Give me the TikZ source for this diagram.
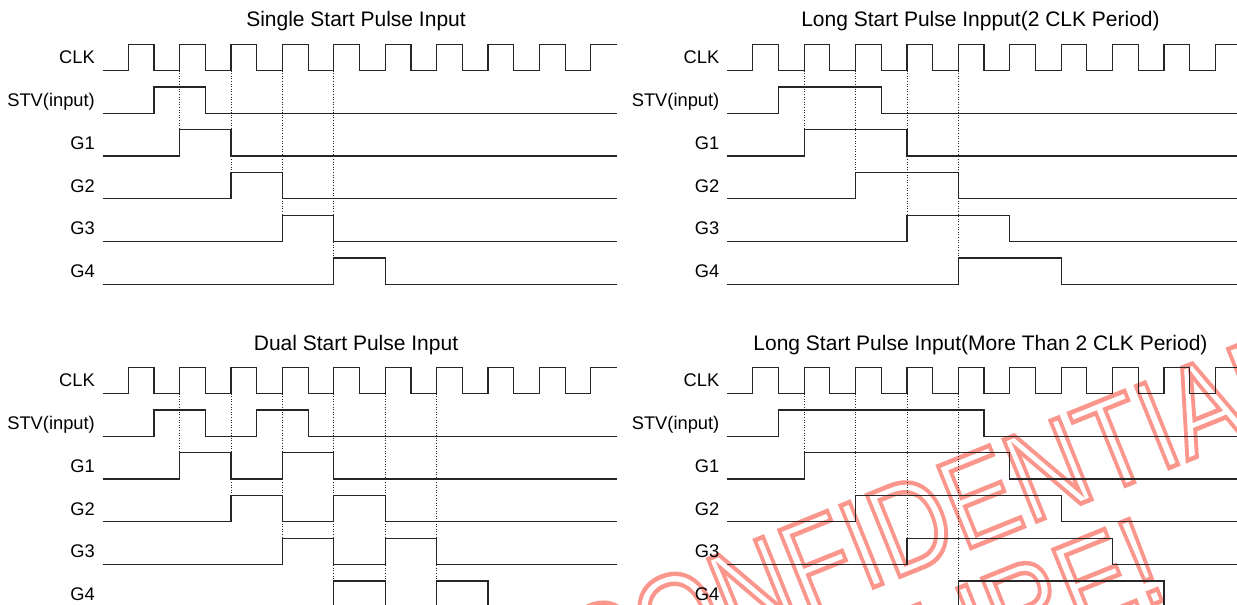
\documentclass[tikz,border=0pt]{standalone}
\usepackage{fontspec}
\setmainfont{Liberation Sans}
\usepackage{graphicx}
\usepackage{tikz}
\definecolor{WaveDark}{HTML}{262626}
\definecolor{StampRed}{HTML}{FA968C}
% hollow letters: stroke the glyph outlines only
\newcommand\hollow[1]{\special{pdf:literal direct 1 Tr 4.5 w 0.98 0.59 0.55 RG}#1\special{pdf:literal direct 0 Tr}}

\begin{document}
\begin{tikzpicture}[x=1pt,y=-1pt,
    every node/.style={font=\fontsize{18.3}{20}\selectfont, inner sep=0pt},
    wave/.style={draw=WaveDark, line width=1.2pt, line join=miter},
    guide/.style={draw=WaveDark, line width=0.7pt, dash pattern=on 1pt off 1.6pt},
    headline/.style={font=\fontsize{21}{24}\selectfont, anchor=base},
    stamp/.style={rotate=22, text=StampRed, line width=4.5pt,
      font=\fontsize{128}{130}\selectfont}]
  \useasboundingbox[fill=white] (0,0) rectangle (1237,605);

  % watermark behind the traces
  \node[stamp] (stamp-top) at (930,517) {\scalebox{0.83}[1]{\hollow{CONFIDENTIAL}}};
  \node[stamp, anchor=east] (stamp-low) at (1157,556) {\scalebox{0.83}[1]{\hollow{URE!}}};

  \foreach \px/\py/\panel/\headtext/\starts/\guides/\wid in {
    0/0/single/{Single Start Pulse Input}/{2}/{3/2,5/3,7/4,9/5}/2,
    624.5/0/long/{Long Start Pulse Inpput(2 CLK Period)}/{2}/{3/2,5/3,7/4,9/5}/4,
    0/323/dual/{Dual Start Pulse Input}/{2,6}/{3/2,5/3,7/4,9/5,11/5,13/5}/2,
    624.5/323/more/{Long Start Pulse Input(More Than 2 CLK Period)}/{2}/{3/2,5/3,7/4,9/5}/8
  }{
    \begin{scope}[shift={(\px,\py)}]
      \node[headline] (\panel-head) at (356,27) {\headtext};
      \foreach \row/\lab in {0/CLK,1/STV(input),2/G1,3/G2,4/G3,5/G4}
        \node[anchor=base east] (\panel-\row) at (95,63.8+42.75*\row) {\lab};
      \begin{scope}[shift={(102.5,0)}, x=25.7pt]
        % clock
        \draw[wave] (0,70.5) foreach \i in {1,3,...,17} {
            -- (\i,70.5) -- (\i,44.2) -- (\i+1,44.2) -- (\i+1,70.5)}
          -- (19,70.5) -- (19,44.2) -- (20,44.2);
        % STV and gate outputs, each one clock later
        \foreach \row/\lag in {1/0,2/1,3/3,4/5,5/7} {
          \pgfmathsetmacro\sigLow{70.5+42.75*\row}
          \pgfmathsetmacro\sigHigh{\sigLow-26.3}
          \draw[wave] (0,\sigLow) foreach \s in \starts {
              -- (\s+\lag,\sigLow) -- (\s+\lag,\sigHigh)
              -- (\s+\lag+\wid,\sigHigh) -- (\s+\lag+\wid,\sigLow)}
            -- (20,\sigLow);
        }
        % dotted timing guides
        \foreach \tg/\row in \guides
          \draw[guide] (\tg,70.5) -- (\tg,44.2+42.75*\row);
      \end{scope}
    \end{scope}
  }
\end{tikzpicture}
\end{document}
